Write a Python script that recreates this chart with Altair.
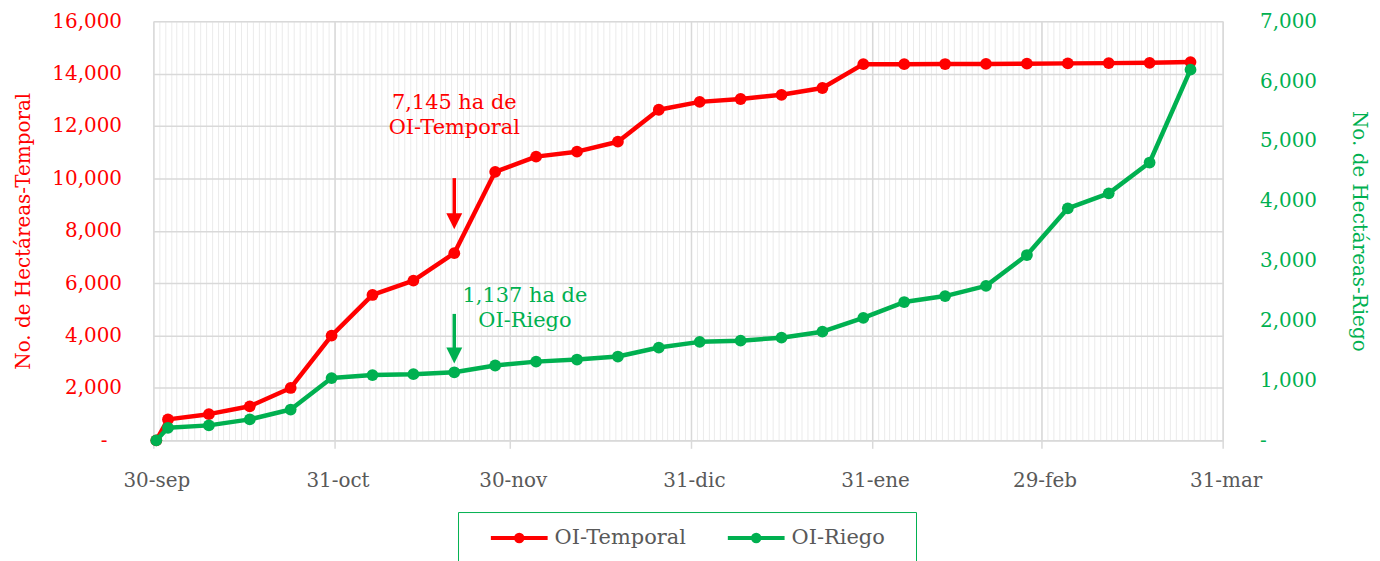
import altair as alt
import pandas as pd

# ---------------- data ----------------
fechas = ["2019-09-30", "2019-10-02", "2019-10-09", "2019-10-16", "2019-10-23",
          "2019-10-30", "2019-11-06", "2019-11-13", "2019-11-20", "2019-11-27",
          "2019-12-04", "2019-12-11", "2019-12-18", "2019-12-25", "2020-01-01",
          "2020-01-08", "2020-01-15", "2020-01-22", "2020-01-29", "2020-02-05",
          "2020-02-12", "2020-02-19", "2020-02-26", "2020-03-04", "2020-03-11",
          "2020-03-18", "2020-03-25"]
temporal = [0, 800, 1000, 1300, 2000, 4000, 5550, 6100, 7145, 10250, 10830, 11020,
            11400, 12620, 12920, 13030, 13190, 13450, 14360, 14360, 14365, 14370,
            14380, 14390, 14400, 14410, 14440]
riego = [0, 210, 250, 350, 515, 1040, 1090, 1105, 1137, 1250, 1315, 1350, 1400,
         1550, 1645, 1665, 1715, 1815, 2045, 2310, 2410, 2580, 3095, 3875, 4125,
         4640, 6190]
series = ["OI-Temporal", "OI-Riego"]

ticks_izq = [0, 2000, 4000, 6000, 8000, 10000, 12000, 14000, 16000]
ticks_der = [0, 1000, 2000, 3000, 4000, 5000, 6000, 7000]
meses_tick = [(2019, 9, 30), (2019, 10, 31), (2019, 11, 30), (2019, 12, 31),
              (2020, 1, 31), (2020, 2, 29), (2020, 3, 31)]

anot_texto = ["7,145 ha de", "OI-Temporal", "1,137 ha de", "OI-Riego"]
anot_fecha = ["2019-11-20 12:00", "2019-11-20 12:00", "2019-12-02 14:00", "2019-12-02 14:00"]
anot_valor = [12884, 11934, 5511, 4561]
anot_serie = ["OI-Temporal", "OI-Temporal", "OI-Riego", "OI-Riego"]

flecha_fecha = ["2019-11-20 12:00", "2019-11-20 12:00"]
flecha_inicio = [10010, 4827]
flecha_fin = [8500, 3400]
flecha_punta = [8361, 3242]
flecha_serie = ["OI-Temporal", "OI-Riego"]

# ---------------- styles ----------------
FONT = "DejaVu Serif"
RED = "#FF0000"
GREEN = "#00B050"
GRAY = "#595959"
GRID = "#D9D9D9"
BLANK = "\u2800"  # non-trimmed blank glyph used as padding

df = pd.DataFrame({
    "fecha": pd.to_datetime(fechas, utc=True) + pd.Timedelta(hours=12),
    "temporal": temporal,
    "riego": riego,
})
df_t = df.assign(serie="OI-Temporal")
df_r = df.assign(serie="OI-Riego")

df_anot = pd.DataFrame({"fecha": pd.to_datetime(anot_fecha, utc=True), "valor": anot_valor,
                        "texto": anot_texto, "serie": anot_serie})
df_fl = pd.DataFrame({"fecha": pd.to_datetime(flecha_fecha, utc=True), "inicio": flecha_inicio,
                      "fin": flecha_fin, "punta": flecha_punta, "serie": flecha_serie})

x_dom = [alt.DateTime(year=2019, month=9, date=30, utc=True),
         alt.DateTime(year=2020, month=3, date=31, utc=True)]
xscale = alt.Scale(type="utc", domain=x_dom, nice=False)
color_scale = alt.Scale(domain=series, range=[RED, GREEN])
y_izq = alt.Scale(domain=[0, 16000], nice=False)
y_der = alt.Scale(domain=[0, 7000], nice=False)

axis_minor = alt.Axis(orient="bottom", grid=True, gridColor="#EBEBEB", gridWidth=1,
                      tickCount={"interval": "day", "step": 1},
                      labels=False, ticks=False, domain=False, title=None)
month_expr = ("utcFormat(datum.value, '%d') + '-' + "
              "['ene','feb','mar','abr','may','jun','jul','ago','sep','oct','nov','dic']"
              "[utcmonth(datum.value)]")
axis_major = alt.Axis(orient="bottom",
                      values=[alt.DateTime(year=y, month=m, date=d, utc=True) for y, m, d in meses_tick],
                      labelExpr=month_expr, labelFlush=False, labelOverlap=False, labelOffset=3,
                      grid=True, gridColor=GRID, gridWidth=1.5,
                      ticks=True, tickColor=GRID, tickSize=8, tickWidth=1.5,
                      domain=True, domainColor=GRID, domainWidth=1.5,
                      labelFont=FONT, labelFontSize=20, labelColor=GRAY, labelPadding=22,
                      title=None)

axis_izq = alt.Axis(orient="left", values=ticks_izq,
                    labelExpr="datum.value == 0 ? '-" + BLANK + "' : format(datum.value, ',')",
                    grid=True, gridColor=GRID, gridWidth=1.5, ticks=False, domain=False,
                    labelColor=RED, labelFont=FONT, labelFontSize=20, labelPadding=32,
                    title="No. de Hectáreas-Temporal", titleColor=RED, titleFont=FONT,
                    titleFontSize=20, titleFontWeight="normal", titlePadding=18)
axis_der = alt.Axis(orient="right", values=ticks_der,
                    labelExpr="datum.value == 0 ? '-' : format(datum.value, ',')",
                    grid=False, ticks=False, domain=False,
                    labelColor=GREEN, labelFont=FONT, labelFontSize=20, labelPadding=37,
                    title="No. de Hectáreas-Riego", titleColor=GREEN, titleFont=FONT,
                    titleFontSize=20, titleFontWeight="normal", titlePadding=32)

symbol_path = ("M-1,0M-0.562,0L1,0"
               "M0.309,0A0.09,0.09,0,1,1,0.129,0A0.09,0.09,0,1,1,0.309,0"
               "M0.254,0A0.035,0.035,0,1,1,0.184,0A0.035,0.035,0,1,1,0.254,0")
legend = alt.Legend(title=None, orient="none", legendX=306, legendY=493,
                    direction="horizontal", columns=2, padding=15, clipHeight=22,
                    strokeColor=GREEN, fillColor="white",
                    symbolType=symbol_path, symbolSize=5329, symbolStrokeWidth=4,
                    labelFont=FONT, labelFontSize=21, labelColor=GRAY, labelOffset=5,
                    columnPadding=24, labelLimit=300,
                    labelExpr="datum.label == 'OI-Riego' ? datum.label + '" + BLANK + "' : datum.label")

LW = 4.5
PS = 140


def X(axis=None):
    return alt.X("fecha:T", scale=xscale, axis=axis)


red_line = alt.Chart(df_t).mark_line(strokeWidth=LW, strokeCap="round", strokeJoin="round").encode(
    x=X(axis_minor),
    y=alt.Y("temporal:Q", scale=y_izq, axis=axis_izq),
    color=alt.Color("serie:N", scale=color_scale, legend=legend),
)
red_pts = alt.Chart(df_t).mark_circle(size=PS, opacity=1).encode(
    x=X(), y=alt.Y("temporal:Q", scale=y_izq, axis=None), color=alt.value(RED),
)
fl_rule = alt.Chart(df_fl).mark_rule(strokeWidth=3.5).encode(
    x=X(), y=alt.Y("inicio:Q", scale=y_izq, axis=None), y2="fin:Q",
    color=alt.Color("serie:N", scale=color_scale, legend=None),
)
fl_head = alt.Chart(df_fl).mark_point(shape="M-1,-1L1,-1L0,1Z", size=256, filled=True, opacity=1).encode(
    x=X(), y=alt.Y("punta:Q", scale=y_izq, axis=None),
    color=alt.Color("serie:N", scale=color_scale, legend=None),
)
anot = alt.Chart(df_anot).mark_text(font=FONT, fontSize=21, align="center", baseline="middle").encode(
    x=X(), y=alt.Y("valor:Q", scale=y_izq, axis=None), text="texto:N",
    color=alt.Color("serie:N", scale=color_scale, legend=None),
)
green_line = alt.Chart(df_r).mark_line(strokeWidth=LW, strokeCap="round", strokeJoin="round").encode(
    x=X(axis_major),
    y=alt.Y("riego:Q", scale=y_der, axis=axis_der),
    color=alt.Color("serie:N", scale=color_scale, legend=None),
)
green_pts = alt.Chart(df_r).mark_circle(size=PS, opacity=1).encode(
    x=X(), y=alt.Y("riego:Q", scale=y_der, axis=None), color=alt.value(GREEN),
)

chart = alt.layer(red_line, red_pts, fl_rule, fl_head, anot, green_line, green_pts).resolve_scale(
    y="independent"
).resolve_axis(
    y="independent", x="independent"
).properties(
    width=1074, height=421,
    autosize=alt.AutoSizeParams(type="none"),
    padding={"left": 146, "top": 12, "right": 150, "bottom": 140},
).configure_view(stroke=None).configure(font=FONT)

chart.save("out.html", embed_options={"renderer": "svg", "actions": False})
